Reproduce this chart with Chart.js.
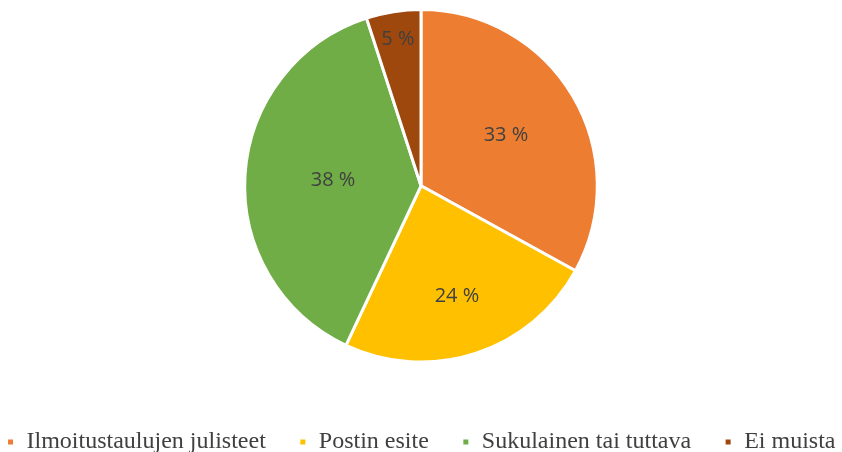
<!DOCTYPE html>
<html>
<head>
<meta charset="utf-8">
<script src="https://cdn.jsdelivr.net/npm/chart.js@4/dist/chart.umd.min.js"></script>
<style>
  html, body { margin: 0; padding: 0; background: #fff; }
  #wrap { width: 842px; height: 452px; }
</style>
</head>
<body>
<div id="wrap"><canvas id="pieChart"></canvas></div>
<script>
const categories = ['Ilmoitustaulujen julisteet', 'Postin esite', 'Sukulainen tai tuttava', 'Ei muista'];
const shares = [33, 24, 38, 5];
const sliceColors = ['#ED7D31', '#FFC000', '#70AD47', '#9E480E'];

// label distance from centre, as a fraction of the radius (Excel "best fit" look)
const labelRadius = [0.56, 0.66, 0.5, 0.84];

const sliceLabels = {
  id: 'sliceLabels',
  afterDatasetsDraw(chart) {
    const ctx = chart.ctx;
    const meta = chart.getDatasetMeta(0);
    ctx.save();
    ctx.font = '20px "Open Sans", "Noto Sans", sans-serif';
    ctx.fillStyle = '#404040';
    ctx.textAlign = 'center';
    ctx.textBaseline = 'middle';
    meta.data.forEach((arc, i) => {
      const p = arc.getProps(['x', 'y', 'startAngle', 'endAngle', 'outerRadius'], true);
      const mid = (p.startAngle + p.endAngle) / 2;
      const r = p.outerRadius * labelRadius[i];
      ctx.fillText(shares[i] + ' %', p.x + Math.cos(mid) * r, p.y + Math.sin(mid) * r);
    });
    ctx.restore();
  }
};

new Chart(document.getElementById('pieChart'), {
  type: 'pie',
  data: {
    labels: categories,
    datasets: [{
      data: shares,
      backgroundColor: sliceColors,
      borderColor: '#ffffff',
      borderWidth: 3
    }]
  },
  options: {
    responsive: true,
    maintainAspectRatio: false,
    animation: false,
    // negative side padding gives the one-row legend enough room
    layout: { padding: { top: 8, bottom: -12, left: -50, right: -50 } },
    plugins: {
      tooltip: { enabled: false },
      legend: {
        position: 'bottom',
        title: { display: true, text: '', padding: { top: 10, bottom: 9 } },
        labels: {
          boxWidth: 8,
          boxHeight: 8,
          padding: 33,
          color: '#404040',
          font: { family: '"Liberation Serif", "Times New Roman", serif', size: 24 }
        }
      }
    }
  },
  plugins: [sliceLabels]
});
</script>
</body>
</html>
